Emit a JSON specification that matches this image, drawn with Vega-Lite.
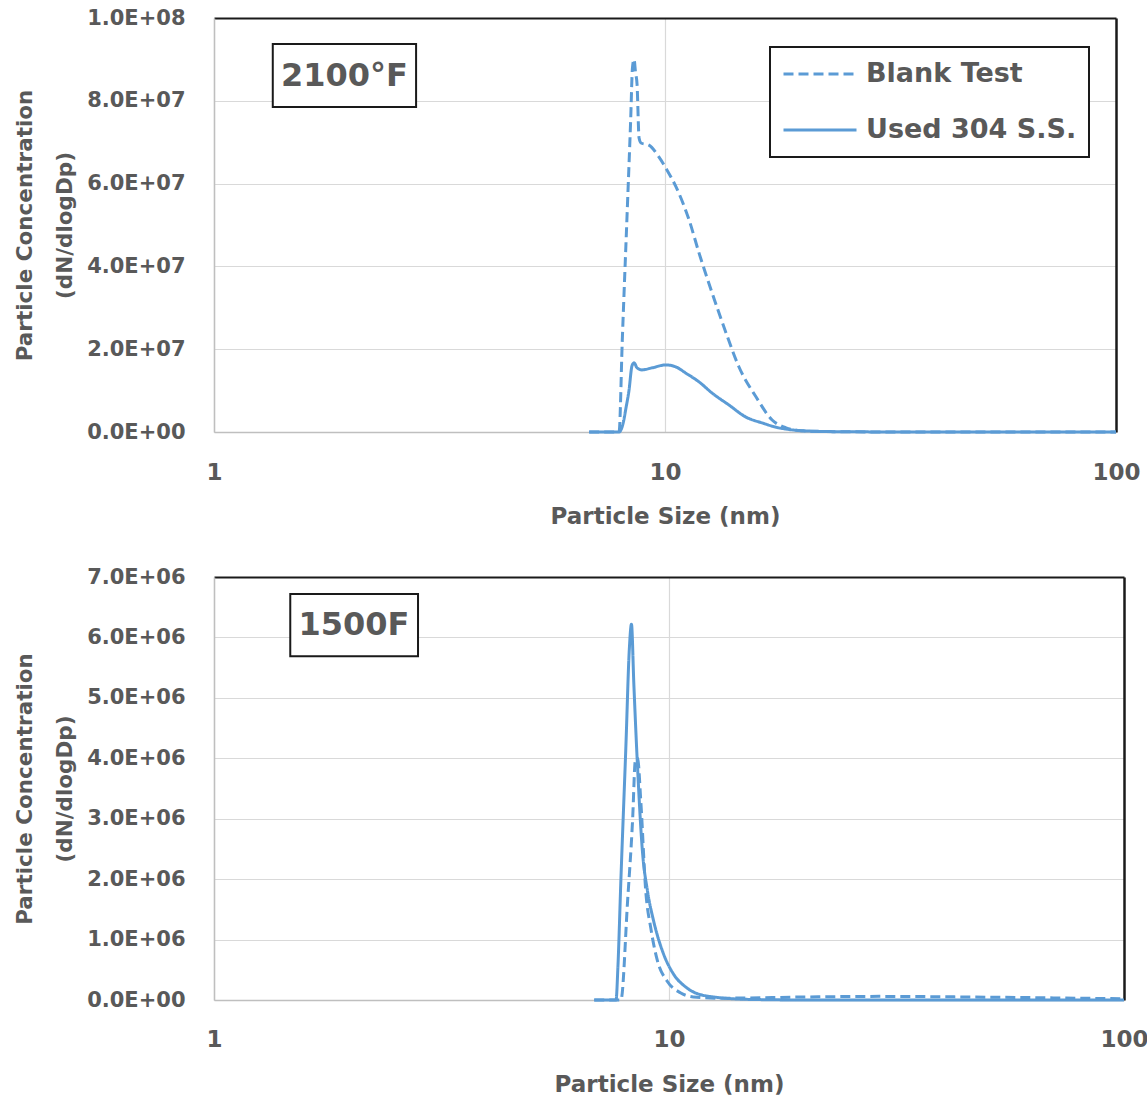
{
  "$schema": "https://vega.github.io/schema/vega-lite/v6.json",
  "padding": {"top": 7, "left": 14, "right": 0, "bottom": 0},
  "background": "white",
  "config": {
    "font": "DejaVu Sans",
    "view": {"stroke": null},
    "axis": {
      "labelFont": "DejaVu Sans", "titleFont": "DejaVu Sans",
      "labelFontWeight": "bold", "titleFontWeight": "bold",
      "labelColor": "#595959", "titleColor": "#595959",
      "ticks": false, "tickSize": 0,
      "domainColor": "#bfbfbf", "domainWidth": 1.5,
      "gridColor": "#d9d9d9", "gridWidth": 1.2
    },
    "legend": {"strokeWidth": 2},
    "text": {"font": "DejaVu Sans"}
  },
  "datasets": {
    "lines_top": [
      {"series": "Blank Test", "size": 6.79, "value": 0},
      {"series": "Blank Test", "size": 7.5, "value": 0},
      {"series": "Blank Test", "size": 7.91, "value": 0},
      {"series": "Blank Test", "size": 8.04, "value": 22000000},
      {"series": "Blank Test", "size": 8.25, "value": 54000000},
      {"series": "Blank Test", "size": 8.39, "value": 75000000},
      {"series": "Blank Test", "size": 8.47, "value": 88000000},
      {"series": "Blank Test", "size": 8.54, "value": 90000000},
      {"series": "Blank Test", "size": 8.6, "value": 87000000},
      {"series": "Blank Test", "size": 8.67, "value": 84000000},
      {"series": "Blank Test", "size": 8.76, "value": 71000000},
      {"series": "Blank Test", "size": 8.85, "value": 69800000},
      {"series": "Blank Test", "size": 9.21, "value": 69300000},
      {"series": "Blank Test", "size": 9.7, "value": 66400000},
      {"series": "Blank Test", "size": 10.1, "value": 63300000},
      {"series": "Blank Test", "size": 10.58, "value": 59200000},
      {"series": "Blank Test", "size": 11.31, "value": 51200000},
      {"series": "Blank Test", "size": 11.9, "value": 43200000},
      {"series": "Blank Test", "size": 12.72, "value": 33600000},
      {"series": "Blank Test", "size": 13.66, "value": 23900000},
      {"series": "Blank Test", "size": 14.59, "value": 15700000},
      {"series": "Blank Test", "size": 15.91, "value": 8500000},
      {"series": "Blank Test", "size": 17.28, "value": 2900000},
      {"series": "Blank Test", "size": 18.55, "value": 1000000},
      {"series": "Blank Test", "size": 20, "value": 300000},
      {"series": "Blank Test", "size": 25, "value": 50000},
      {"series": "Blank Test", "size": 40, "value": 0},
      {"series": "Blank Test", "size": 100, "value": 0},
      {"series": "Used 304 S.S.", "size": 6.79, "value": 0},
      {"series": "Used 304 S.S.", "size": 7.5, "value": 0},
      {"series": "Used 304 S.S.", "size": 7.91, "value": 0},
      {"series": "Used 304 S.S.", "size": 8.07, "value": 2000000},
      {"series": "Used 304 S.S.", "size": 8.2, "value": 6000000},
      {"series": "Used 304 S.S.", "size": 8.32, "value": 10000000},
      {"series": "Used 304 S.S.", "size": 8.45, "value": 16000000},
      {"series": "Used 304 S.S.", "size": 8.54, "value": 16700000},
      {"series": "Used 304 S.S.", "size": 8.67, "value": 15500000},
      {"series": "Used 304 S.S.", "size": 8.89, "value": 15000000},
      {"series": "Used 304 S.S.", "size": 9.36, "value": 15500000},
      {"series": "Used 304 S.S.", "size": 10.05, "value": 16200000},
      {"series": "Used 304 S.S.", "size": 10.58, "value": 15700000},
      {"series": "Used 304 S.S.", "size": 11.13, "value": 14200000},
      {"series": "Used 304 S.S.", "size": 11.9, "value": 12100000},
      {"series": "Used 304 S.S.", "size": 12.72, "value": 9400000},
      {"series": "Used 304 S.S.", "size": 13.87, "value": 6500000},
      {"series": "Used 304 S.S.", "size": 15.12, "value": 3600000},
      {"series": "Used 304 S.S.", "size": 16.41, "value": 2200000},
      {"series": "Used 304 S.S.", "size": 17.89, "value": 1000000},
      {"series": "Used 304 S.S.", "size": 21.18, "value": 200000},
      {"series": "Used 304 S.S.", "size": 25.6, "value": 50000},
      {"series": "Used 304 S.S.", "size": 40, "value": 0},
      {"series": "Used 304 S.S.", "size": 100, "value": 0}
    ],
    "lines_bottom": [
      {"series": "Blank Test", "size": 6.85, "value": 0},
      {"series": "Blank Test", "size": 7.84, "value": 0},
      {"series": "Blank Test", "size": 8.11, "value": 1640000},
      {"series": "Blank Test", "size": 8.32, "value": 3000000},
      {"series": "Blank Test", "size": 8.43, "value": 3950000},
      {"series": "Blank Test", "size": 8.53, "value": 4000000},
      {"series": "Blank Test", "size": 8.67, "value": 3290000},
      {"series": "Blank Test", "size": 8.89, "value": 1800000},
      {"series": "Blank Test", "size": 9.12, "value": 1190000},
      {"series": "Blank Test", "size": 9.43, "value": 650000},
      {"series": "Blank Test", "size": 9.91, "value": 310000},
      {"series": "Blank Test", "size": 10.59, "value": 120000},
      {"series": "Blank Test", "size": 11.31, "value": 50000},
      {"series": "Blank Test", "size": 13, "value": 30000},
      {"series": "Blank Test", "size": 20, "value": 50000},
      {"series": "Blank Test", "size": 29, "value": 60000},
      {"series": "Blank Test", "size": 45, "value": 50000},
      {"series": "Blank Test", "size": 70, "value": 35000},
      {"series": "Blank Test", "size": 100, "value": 20000},
      {"series": "Used 304 S.S.", "size": 6.85, "value": 0},
      {"series": "Used 304 S.S.", "size": 7.65, "value": 0},
      {"series": "Used 304 S.S.", "size": 7.72, "value": 530000},
      {"series": "Used 304 S.S.", "size": 7.84, "value": 2000000},
      {"series": "Used 304 S.S.", "size": 8.04, "value": 4200000},
      {"series": "Used 304 S.S.", "size": 8.18, "value": 5800000},
      {"series": "Used 304 S.S.", "size": 8.27, "value": 6220000},
      {"series": "Used 304 S.S.", "size": 8.37, "value": 5230000},
      {"series": "Used 304 S.S.", "size": 8.53, "value": 3840000},
      {"series": "Used 304 S.S.", "size": 8.74, "value": 2470000},
      {"series": "Used 304 S.S.", "size": 8.97, "value": 1800000},
      {"series": "Used 304 S.S.", "size": 9.25, "value": 1310000},
      {"series": "Used 304 S.S.", "size": 9.73, "value": 760000},
      {"series": "Used 304 S.S.", "size": 10.23, "value": 430000},
      {"series": "Used 304 S.S.", "size": 10.95, "value": 200000},
      {"series": "Used 304 S.S.", "size": 12.11, "value": 66000},
      {"series": "Used 304 S.S.", "size": 15, "value": 10000},
      {"series": "Used 304 S.S.", "size": 20, "value": 0},
      {"series": "Used 304 S.S.", "size": 100, "value": 0}
    ],
    "notes": [
      {"panel": "top", "label": "2100°F", "x": 1.35, "x2": 2.806, "y": 78500000, "y2": 93700000, "tx": 1.947, "ty": 86100000},
      {"panel": "bottom", "label": "1500F", "x": 1.471, "x2": 2.808, "y": 5690000, "y2": 6720000, "tx": 2.03, "ty": 6200000}
    ]
  },
  "spacing": 38,
  "resolve": {
    "scale": {"color": "independent", "strokeDash": "independent"},
    "legend": {"color": "independent", "strokeDash": "independent"}
  },
  "vconcat": [
    {
      "width": 902,
      "height": 414,
      "resolve": {"axis": {"x": "independent", "y": "independent"}},
      "layer": [
        {
          "data": {"name": "lines_top"},
          "mark": {"type": "line", "strokeWidth": 3, "interpolate": "monotone"},
          "encoding": {
            "x": {
              "field": "size", "type": "quantitative",
              "scale": {"type": "log", "domain": [1, 100]},
              "axis": {
                "values": [1, 10, 100], "format": "d",
                "labelFontSize": 23, "labelPadding": 29, "labelFlush": false,
                "title": "Particle Size (nm)", "titleFontSize": 23, "titlePadding": 21,
                "grid": true,
                "gridOpacity": {"condition": {"test": "datum.value >= 100", "value": 0}, "value": 1}
              }
            },
            "y": {
              "field": "value", "type": "quantitative",
              "scale": {"domain": [0, 100000000], "nice": false},
              "axis": {
                "values": [0, 20000000, 40000000, 60000000, 80000000, 100000000],
                "labelExpr": "replace(format(datum.value, '.1e'), 'e+', 'E+0')",
                "labelFontSize": 21, "labelPadding": 29,
                "title": ["Particle Concentration", "(dN/dlogDp)"],
                "titleFontSize": 21.5, "titleLineHeight": 40, "titlePadding": 10,
                "grid": true,
                "gridOpacity": {"condition": {"test": "datum.value >= 100000000", "value": 0}, "value": 1}
              }
            },
            "color": {
              "field": "series", "type": "nominal",
              "scale": {"domain": ["Blank Test", "Used 304 S.S."], "range": ["#5B9BD5", "#5B9BD5"]},
              "legend": {
                "orient": "none", "legendX": 556, "legendY": 29, "title": null,
                "symbolType": "stroke", "symbolSize": 5329, "symbolStrokeWidth": 3,
                "labelFont": "DejaVu Sans", "labelFontWeight": "bold", "labelFontSize": 27,
                "labelColor": "#595959", "labelOffset": 8, "labelLimit": 400,
                "padding": 12, "rowPadding": 26, "clipHeight": 30,
                "strokeColor": "#1a1a1a", "fillColor": "white"
              }
            },
            "strokeDash": {
              "field": "series", "type": "nominal",
              "scale": {"domain": ["Blank Test", "Used 304 S.S."], "range": [[10, 5], [1, 0]]},
              "legend": {
                "orient": "none", "legendX": 556, "legendY": 29, "title": null,
                "symbolType": "stroke", "symbolSize": 5329, "symbolStrokeWidth": 3,
                "labelFont": "DejaVu Sans", "labelFontWeight": "bold", "labelFontSize": 27,
                "labelColor": "#595959", "labelOffset": 8, "labelLimit": 400,
                "padding": 12, "rowPadding": 26, "clipHeight": 30,
                "strokeColor": "#1a1a1a", "fillColor": "white"
              }
            }
          }
        },
        {
          "data": {"name": "notes"},
          "transform": [{"filter": "datum.panel == 'top'"}],
          "mark": {"type": "rect", "fill": "white", "stroke": "#1a1a1a", "strokeWidth": 2},
          "encoding": {
            "x": {
              "field": "x", "type": "quantitative",
              "scale": {"type": "log", "domain": [1, 100]},
              "axis": {"orient": "top", "domainColor": "#1a1a1a", "domainWidth": 2, "labels": false, "ticks": false, "grid": false, "title": null}
            },
            "x2": {"field": "x2"},
            "y": {
              "field": "y", "type": "quantitative",
              "scale": {"domain": [0, 100000000], "nice": false},
              "axis": {"orient": "right", "domainColor": "#1a1a1a", "domainWidth": 2.5, "labels": false, "ticks": false, "grid": false, "title": null}
            },
            "y2": {"field": "y2"}
          }
        },
        {
          "data": {"name": "notes"},
          "transform": [{"filter": "datum.panel == 'top'"}],
          "mark": {"type": "text", "font": "DejaVu Sans", "fontWeight": "bold", "fontSize": 32, "color": "#595959", "align": "center", "baseline": "middle"},
          "encoding": {
            "x": {"field": "tx", "type": "quantitative", "scale": {"type": "log", "domain": [1, 100]}, "axis": null},
            "y": {"field": "ty", "type": "quantitative", "scale": {"domain": [0, 100000000], "nice": false}, "axis": null},
            "text": {"field": "label"}
          }
        }
      ]
    },
    {
      "width": 910,
      "height": 423,
      "resolve": {"axis": {"x": "independent", "y": "independent"}},
      "layer": [
        {
          "data": {"name": "lines_bottom"},
          "mark": {"type": "line", "strokeWidth": 3, "interpolate": "monotone"},
          "encoding": {
            "x": {
              "field": "size", "type": "quantitative",
              "scale": {"type": "log", "domain": [1, 100]},
              "axis": {
                "values": [1, 10, 100], "format": "d",
                "labelFontSize": 23, "labelPadding": 28, "labelFlush": false,
                "title": "Particle Size (nm)", "titleFontSize": 23, "titlePadding": 22,
                "grid": true,
                "gridOpacity": {"condition": {"test": "datum.value >= 100", "value": 0}, "value": 1}
              }
            },
            "y": {
              "field": "value", "type": "quantitative",
              "scale": {"domain": [0, 7000000], "nice": false},
              "axis": {
                "values": [0, 1000000, 2000000, 3000000, 4000000, 5000000, 6000000, 7000000],
                "labelExpr": "replace(format(datum.value, '.1e'), 'e+', 'E+0')",
                "labelFontSize": 21, "labelPadding": 29,
                "title": ["Particle Concentration", "(dN/dlogDp)"],
                "titleFontSize": 21.5, "titleLineHeight": 40, "titlePadding": 10,
                "grid": true,
                "gridOpacity": {"condition": {"test": "datum.value >= 7000000", "value": 0}, "value": 1}
              }
            },
            "color": {
              "field": "series", "type": "nominal",
              "scale": {"domain": ["Blank Test", "Used 304 S.S."], "range": ["#5B9BD5", "#5B9BD5"]},
              "legend": null
            },
            "strokeDash": {
              "field": "series", "type": "nominal",
              "scale": {"domain": ["Blank Test", "Used 304 S.S."], "range": [[10, 5], [1, 0]]},
              "legend": null
            }
          }
        },
        {
          "data": {"name": "notes"},
          "transform": [{"filter": "datum.panel == 'bottom'"}],
          "mark": {"type": "rect", "fill": "white", "stroke": "#1a1a1a", "strokeWidth": 2},
          "encoding": {
            "x": {
              "field": "x", "type": "quantitative",
              "scale": {"type": "log", "domain": [1, 100]},
              "axis": {"orient": "top", "domainColor": "#1a1a1a", "domainWidth": 2, "labels": false, "ticks": false, "grid": false, "title": null}
            },
            "x2": {"field": "x2"},
            "y": {
              "field": "y", "type": "quantitative",
              "scale": {"domain": [0, 7000000], "nice": false},
              "axis": {"orient": "right", "domainColor": "#1a1a1a", "domainWidth": 2.5, "labels": false, "ticks": false, "grid": false, "title": null}
            },
            "y2": {"field": "y2"}
          }
        },
        {
          "data": {"name": "notes"},
          "transform": [{"filter": "datum.panel == 'bottom'"}],
          "mark": {"type": "text", "font": "DejaVu Sans", "fontWeight": "bold", "fontSize": 32, "color": "#595959", "align": "center", "baseline": "middle"},
          "encoding": {
            "x": {"field": "tx", "type": "quantitative", "scale": {"type": "log", "domain": [1, 100]}, "axis": null},
            "y": {"field": "ty", "type": "quantitative", "scale": {"domain": [0, 7000000], "nice": false}, "axis": null},
            "text": {"field": "label"}
          }
        }
      ]
    }
  ]
}
